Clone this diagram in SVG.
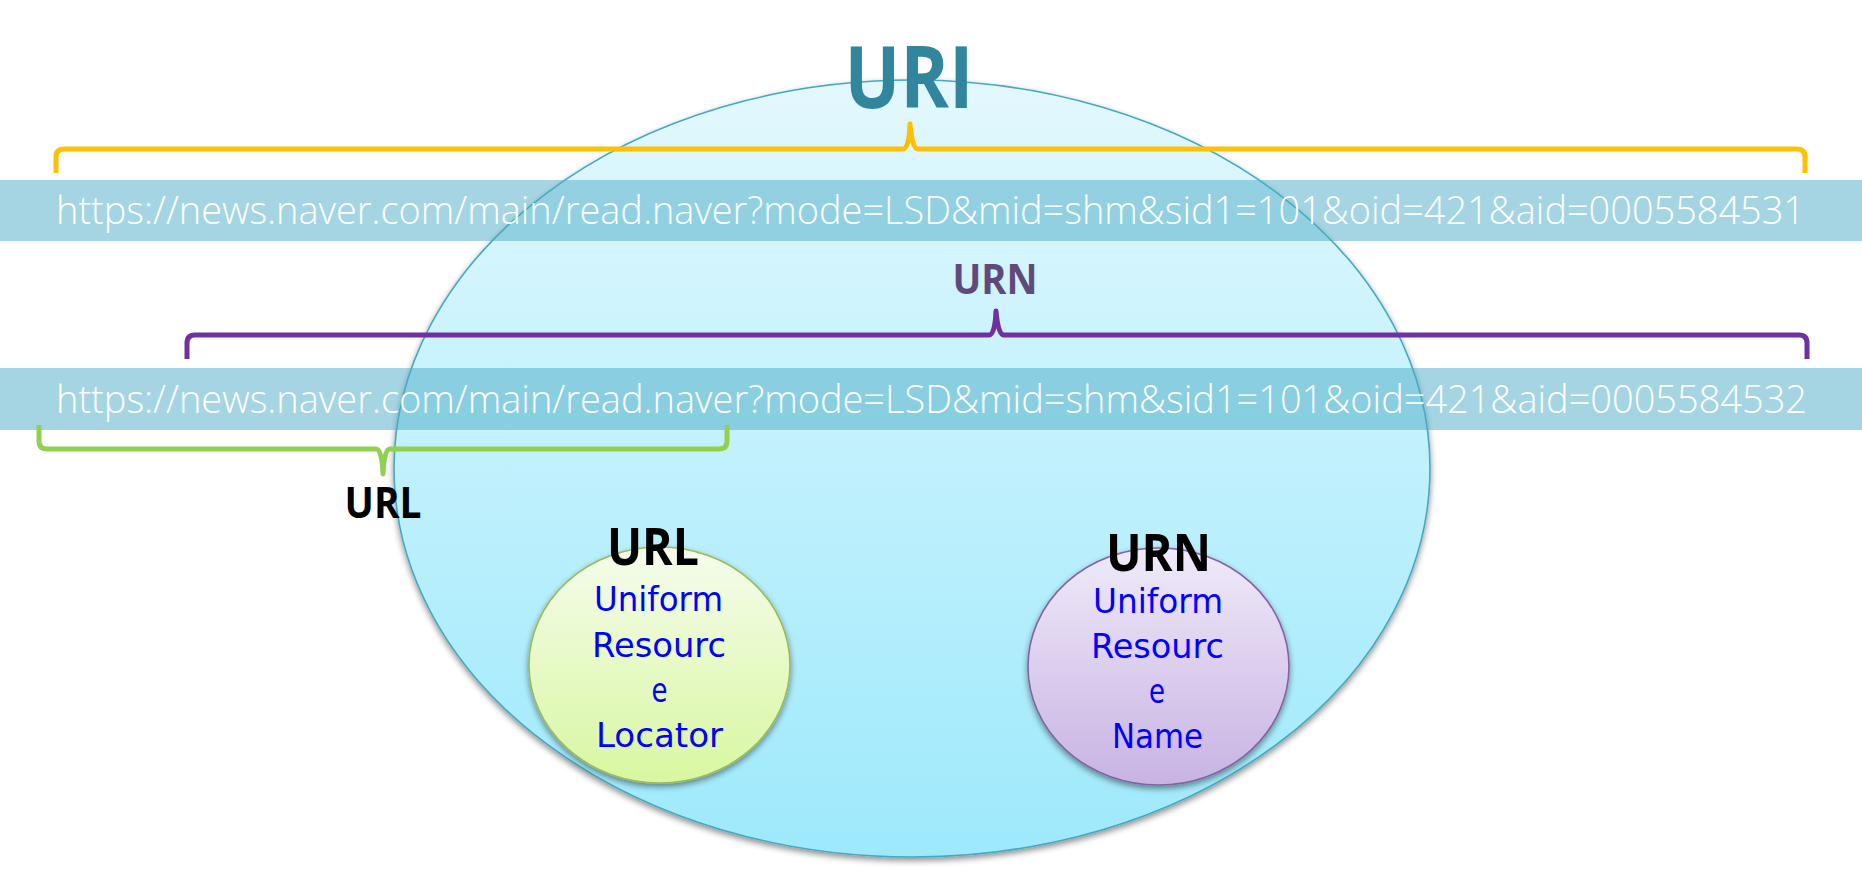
<svg xmlns="http://www.w3.org/2000/svg" width="1862" height="869" viewBox="0 0 1862 869">
<style>
.bar{fill:#4BACC6;fill-opacity:0.5}
.urltext{font-family:"Open Sans","Noto Sans",sans-serif;font-weight:300;font-size:38px;fill:#FFFFFF}
.bold{font-family:"Open Sans","Noto Sans",sans-serif;font-weight:700;text-anchor:middle}
.blue{font-family:"DejaVu Sans","Noto Sans",sans-serif;font-size:33px;fill:#0000FF;text-anchor:middle}
.brk{fill:none;stroke-width:5;stroke-linejoin:round;stroke-linecap:butt}
</style>
<defs>
<linearGradient id="gUri" x1="0" y1="0" x2="0" y2="1">
<stop offset="0" stop-color="#E3F8FD"/>
<stop offset="1" stop-color="#9DE9FC"/>
</linearGradient>
<linearGradient id="gUrl" x1="0" y1="0" x2="0" y2="1">
<stop offset="0" stop-color="#F5FCEC"/>
<stop offset="1" stop-color="#D8F7A0"/>
</linearGradient>
<linearGradient id="gUrn" x1="0" y1="0" x2="0" y2="1">
<stop offset="0" stop-color="#F0EAF9"/>
<stop offset="1" stop-color="#C8B3E3"/>
</linearGradient>
<filter id="sh" x="-10%" y="-10%" width="120%" height="125%">
<feGaussianBlur in="SourceAlpha" stdDeviation="3"/>
<feOffset dx="0" dy="3" result="b"/>
<feComponentTransfer><feFuncA type="linear" slope="0.45"/></feComponentTransfer>
<feMerge><feMergeNode/><feMergeNode in="SourceGraphic"/></feMerge>
</filter>
</defs>
<rect width="1862" height="869" fill="#FFFFFF"/>

<g id="uri-set">
<ellipse cx="912" cy="468.5" rx="518" ry="388.5" fill="url(#gUri)" stroke="#45A8C2" stroke-width="1.6" filter="url(#sh)"/>
</g>

<g id="uri-title">
<text class="bold" x="909" y="108" font-size="86" fill="#31859C" textLength="129" lengthAdjust="spacingAndGlyphs">URI</text>
</g>

<g id="url-bar-1">
<rect class="bar" x="0" y="180" width="1862" height="61"/>
<text class="urltext" x="56" y="224" textLength="1749" lengthAdjust="spacingAndGlyphs">https://news.naver.com/main/read.naver?mode=LSD&amp;mid=shm&amp;sid1=101&amp;oid=421&amp;aid=0005584531</text>
</g>

<g id="url-bar-2">
<rect class="bar" x="0" y="368" width="1862" height="62"/>
<text class="urltext" x="56" y="413" textLength="1751" lengthAdjust="spacingAndGlyphs">https://news.naver.com/main/read.naver?mode=LSD&amp;mid=shm&amp;sid1=101&amp;oid=421&amp;aid=0005584532</text>
</g>

<g id="connectors">
<path class="brk" stroke="#FFC000" d="M56,173 L56,157 Q56,149 64,149 L903,149 Q909,149 910,124 Q912,149 918,149 L1797,149 Q1805,149 1805,157 L1805,173"/>
<path class="brk" stroke="#7030A0" d="M187,359 L187,343 Q187,335 195,335 L989,335 Q995,335 996,311 Q998,335 1004,335 L1799,335 Q1807,335 1807,343 L1807,359"/>
<path class="brk" stroke="#92D050" d="M39,425 L39,441 Q39,449 47,449 L376,449 Q382,449 383,474 Q384,449 390,449 L719,449 Q727,449 727,441 L727,425"/>
</g>

<g id="urn-label">
<text class="bold" x="995" y="294" font-size="42" fill="#604A7B" textLength="85" lengthAdjust="spacingAndGlyphs">URN</text>
</g>

<g id="url-label">
<text class="bold" x="383" y="518" font-size="43" fill="#000000" textLength="77" lengthAdjust="spacingAndGlyphs">URL</text>
</g>

<g id="url-node">
<ellipse cx="659.5" cy="665" rx="130.5" ry="118" fill="url(#gUrl)" stroke="#9BBB59" stroke-width="1.6" filter="url(#sh)"/>
<text class="bold" x="653" y="565" font-size="52" fill="#000000" textLength="92" lengthAdjust="spacingAndGlyphs">URL</text>
<text class="blue" x="658.5" y="611" textLength="129" lengthAdjust="spacingAndGlyphs">Uniform</text>
<text class="blue" x="659" y="657" textLength="134" lengthAdjust="spacingAndGlyphs">Resourc</text>
<text class="blue" x="659.5" y="702" textLength="16" lengthAdjust="spacingAndGlyphs">e</text>
<text class="blue" x="659.5" y="747" textLength="127" lengthAdjust="spacingAndGlyphs">Locator</text>
</g>

<g id="urn-node">
<ellipse cx="1158.5" cy="666.5" rx="130.5" ry="118.5" fill="url(#gUrn)" stroke="#8064A2" stroke-width="1.6" filter="url(#sh)"/>
<text class="bold" x="1158.5" y="571" font-size="52" fill="#000000" textLength="105" lengthAdjust="spacingAndGlyphs">URN</text>
<text class="blue" x="1158" y="613" textLength="130" lengthAdjust="spacingAndGlyphs">Uniform</text>
<text class="blue" x="1157.5" y="658" textLength="133" lengthAdjust="spacingAndGlyphs">Resourc</text>
<text class="blue" x="1157" y="703" textLength="16" lengthAdjust="spacingAndGlyphs">e</text>
<text class="blue" x="1157.5" y="748" textLength="91" lengthAdjust="spacingAndGlyphs">Name</text>
</g>
</svg>
